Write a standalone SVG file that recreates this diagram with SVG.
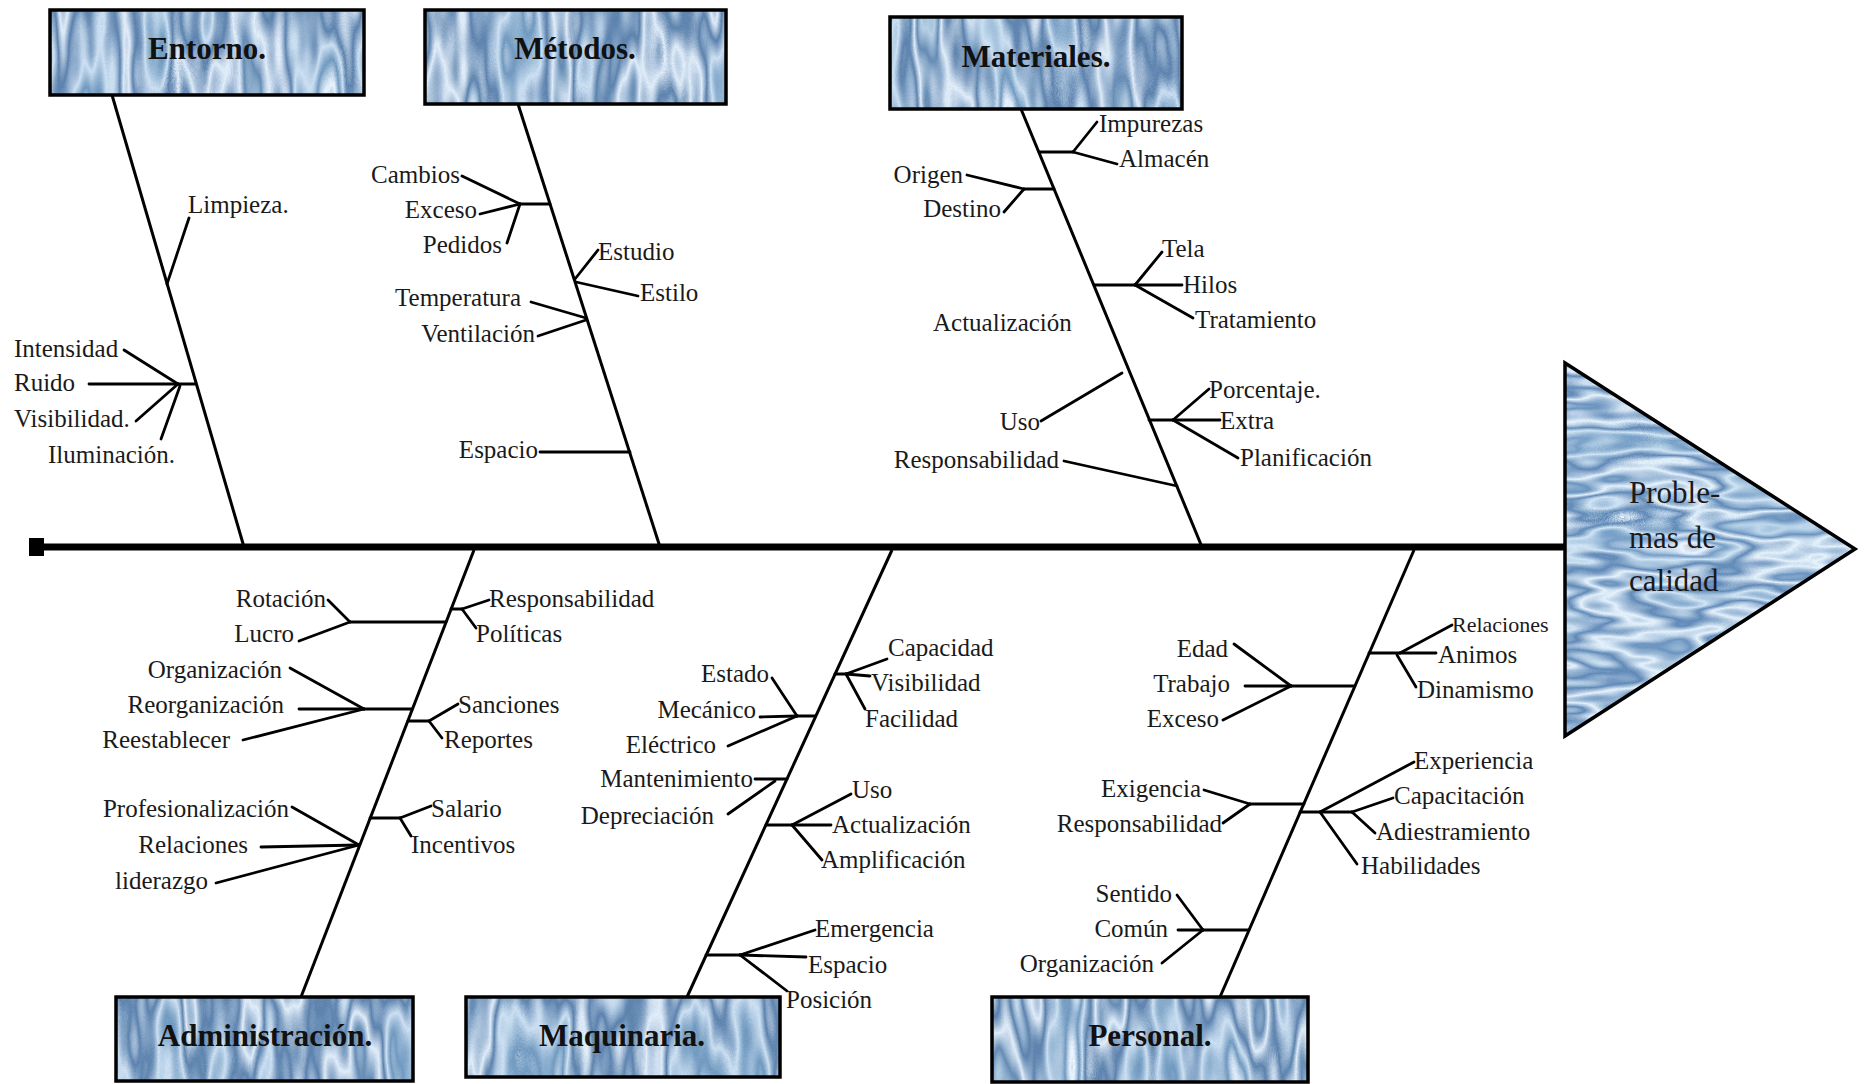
<svg xmlns="http://www.w3.org/2000/svg" width="1866" height="1084" viewBox="0 0 1866 1084">
  <defs>
    <!-- blue marble fill for category boxes (vertical streaks) -->
    <filter id="marbleV" x="0" y="0" width="1" height="1" color-interpolation-filters="sRGB">
      <feTurbulence type="fractalNoise" baseFrequency="0.022 0.005" numOctaves="3" seed="7" result="n"/>
      <feColorMatrix in="n" type="matrix" values="1 0 0 0 0  1 0 0 0 0  1 0 0 0 0  0 0 0 0 1" result="g"/>
      <feComponentTransfer in="g" result="c">
        <feFuncR type="table" tableValues="0.30 0.36 0.72 0.40 0.88 0.36 0.80 0.44 0.92 0.40 0.45"/>
        <feFuncG type="table" tableValues="0.44 0.52 0.82 0.55 0.93 0.51 0.88 0.60 0.96 0.55 0.58"/>
        <feFuncB type="table" tableValues="0.60 0.68 0.90 0.71 0.98 0.68 0.95 0.75 1.00 0.70 0.74"/>
      </feComponentTransfer>
      <feComposite in="c" in2="SourceAlpha" operator="in"/>
    </filter>
    <!-- blue marble fill for the head (horizontal waves) -->
    <filter id="marbleH" x="0" y="0" width="1" height="1" color-interpolation-filters="sRGB">
      <feTurbulence type="fractalNoise" baseFrequency="0.007 0.028" numOctaves="3" seed="3" result="n"/>
      <feColorMatrix in="n" type="matrix" values="1 0 0 0 0  1 0 0 0 0  1 0 0 0 0  0 0 0 0 1" result="g"/>
      <feComponentTransfer in="g" result="c">
        <feFuncR type="table" tableValues="0.30 0.38 0.75 0.42 0.90 0.38 0.82 0.46 0.93 0.40 0.45"/>
        <feFuncG type="table" tableValues="0.46 0.55 0.85 0.58 0.95 0.54 0.90 0.62 0.96 0.56 0.60"/>
        <feFuncB type="table" tableValues="0.64 0.72 0.93 0.75 0.99 0.72 0.96 0.78 1.00 0.73 0.77"/>
      </feComponentTransfer>
      <feComposite in="c" in2="SourceAlpha" operator="in"/>
    </filter>
    <style>
      .fill { fill: #9db6cc; }
      .frame { fill: none; stroke: #000; stroke-width: 3.5; }
      .cat { font-family: "Liberation Serif", "Times New Roman", serif; font-weight: bold; font-size: 31px; fill: #111; text-anchor: middle; }
      .head { font-family: "Liberation Serif", "Times New Roman", serif; font-size: 31px; fill: #1a1a1a; }
      .lbl { font-family: "Liberation Serif", "Times New Roman", serif; font-size: 25px; fill: #1a1a1a; }
      .end { text-anchor: end; }
      .small { font-size: 22px; }
      .spine { stroke: #000; stroke-width: 7; fill: none; }
      .bone { stroke: #000; stroke-width: 3; fill: none; }
      .twig { stroke: #000; stroke-width: 2.8; fill: none; stroke-linecap: round; }
    </style>
  </defs>

  <rect width="1866" height="1084" fill="#fff"/>

  <!-- connectors: spine, bones and twigs -->
  <g id="connectors">
    <rect x="29" y="538" width="15" height="18" fill="#000"/>
    <line class="spine" x1="36" y1="547" x2="1566" y2="547"/>

    <!-- bones -->
    <line class="bone" x1="112" y1="95" x2="244" y2="547"/>
    <line class="bone" x1="518" y1="104" x2="660" y2="547"/>
    <line class="bone" x1="1021" y1="109" x2="1202" y2="547"/>
    <line class="bone" x1="474" y1="550" x2="301" y2="997"/>
    <line class="bone" x1="892" y1="550" x2="687" y2="997"/>
    <line class="bone" x1="1414" y1="550" x2="1220" y2="997"/>

    <!-- Entorno twigs -->
    <g class="twig">
      <line x1="167" y1="284" x2="189" y2="218"/>
      <line x1="178" y1="384" x2="196" y2="384"/>
      <line x1="124" y1="350" x2="178" y2="384"/>
      <line x1="89" y1="384" x2="178" y2="384"/>
      <line x1="136" y1="421" x2="178" y2="384"/>
      <line x1="161" y1="439" x2="180" y2="386"/>
    </g>

    <!-- Métodos twigs -->
    <g class="twig">
      <line x1="520" y1="204" x2="550" y2="204"/>
      <line x1="462" y1="176" x2="520" y2="204"/>
      <line x1="480" y1="214" x2="520" y2="204"/>
      <line x1="507" y1="243" x2="520" y2="204"/>
      <line x1="575" y1="279" x2="598" y2="250"/>
      <line x1="576" y1="282" x2="638" y2="296"/>
      <line x1="531" y1="302" x2="586" y2="318"/>
      <line x1="538" y1="336" x2="586" y2="320"/>
      <line x1="540" y1="452" x2="630" y2="452"/>
    </g>

    <!-- Materiales twigs -->
    <g class="twig">
      <line x1="1039" y1="152" x2="1073" y2="152"/>
      <line x1="1073" y1="152" x2="1097" y2="122"/>
      <line x1="1073" y1="152" x2="1117" y2="164"/>
      <line x1="1024" y1="189" x2="1054" y2="189"/>
      <line x1="967" y1="175" x2="1024" y2="189"/>
      <line x1="1004" y1="212" x2="1024" y2="189"/>
      <line x1="1094" y1="285" x2="1135" y2="285"/>
      <line x1="1135" y1="285" x2="1162" y2="252"/>
      <line x1="1135" y1="285" x2="1182" y2="285"/>
      <line x1="1135" y1="285" x2="1193" y2="318"/>
      <line x1="1041" y1="421" x2="1122" y2="373"/>
      <line x1="1149" y1="420" x2="1173" y2="420"/>
      <line x1="1173" y1="420" x2="1209" y2="389"/>
      <line x1="1173" y1="420" x2="1220" y2="420"/>
      <line x1="1173" y1="420" x2="1238" y2="458"/>
      <line x1="1064" y1="461" x2="1177" y2="486"/>
    </g>

    <!-- Administración twigs -->
    <g class="twig">
      <line x1="350" y1="622" x2="446" y2="622"/>
      <line x1="328" y1="600" x2="350" y2="622"/>
      <line x1="299" y1="641" x2="350" y2="622"/>
      <line x1="451" y1="609" x2="462" y2="609"/>
      <line x1="462" y1="609" x2="489" y2="600"/>
      <line x1="462" y1="609" x2="476" y2="628"/>
      <line x1="364" y1="709" x2="412" y2="709"/>
      <line x1="290" y1="668" x2="364" y2="709"/>
      <line x1="299" y1="709" x2="364" y2="709"/>
      <line x1="243" y1="740" x2="364" y2="709"/>
      <line x1="408" y1="721" x2="429" y2="721"/>
      <line x1="429" y1="721" x2="458" y2="704"/>
      <line x1="429" y1="721" x2="442" y2="738"/>
      <line x1="370" y1="818" x2="400" y2="818"/>
      <line x1="400" y1="818" x2="431" y2="806"/>
      <line x1="400" y1="818" x2="411" y2="836"/>
      <line x1="292" y1="807" x2="359" y2="845"/>
      <line x1="261" y1="847" x2="359" y2="845"/>
      <line x1="216" y1="883" x2="359" y2="845"/>
    </g>

    <!-- Maquinaria twigs -->
    <g class="twig">
      <line x1="797" y1="716" x2="815" y2="716"/>
      <line x1="772" y1="678" x2="797" y2="716"/>
      <line x1="760" y1="717" x2="797" y2="716"/>
      <line x1="728" y1="746" x2="797" y2="716"/>
      <line x1="835" y1="674" x2="846" y2="674"/>
      <line x1="846" y1="674" x2="887" y2="659"/>
      <line x1="846" y1="674" x2="870" y2="676"/>
      <line x1="846" y1="674" x2="865" y2="709"/>
      <line x1="755" y1="779" x2="787" y2="779"/>
      <line x1="728" y1="814" x2="775" y2="781"/>
      <line x1="766" y1="825" x2="792" y2="825"/>
      <line x1="792" y1="825" x2="851" y2="794"/>
      <line x1="792" y1="825" x2="831" y2="825"/>
      <line x1="792" y1="825" x2="822" y2="860"/>
      <line x1="706" y1="955" x2="740" y2="955"/>
      <line x1="740" y1="955" x2="815" y2="930"/>
      <line x1="740" y1="955" x2="806" y2="957"/>
      <line x1="740" y1="955" x2="787" y2="991"/>
    </g>

    <!-- Personal twigs -->
    <g class="twig">
      <line x1="1369" y1="653" x2="1400" y2="653"/>
      <line x1="1400" y1="653" x2="1452" y2="625"/>
      <line x1="1400" y1="653" x2="1436" y2="653"/>
      <line x1="1397" y1="655" x2="1416" y2="687"/>
      <line x1="1291" y1="686" x2="1355" y2="686"/>
      <line x1="1234" y1="644" x2="1291" y2="686"/>
      <line x1="1245" y1="686" x2="1291" y2="686"/>
      <line x1="1223" y1="720" x2="1291" y2="686"/>
      <line x1="1250" y1="804" x2="1304" y2="804"/>
      <line x1="1204" y1="790" x2="1250" y2="804"/>
      <line x1="1223" y1="823" x2="1250" y2="804"/>
      <line x1="1300" y1="812" x2="1352" y2="812"/>
      <line x1="1320" y1="812" x2="1414" y2="762"/>
      <line x1="1320" y1="812" x2="1357" y2="864"/>
      <line x1="1352" y1="812" x2="1393" y2="798"/>
      <line x1="1352" y1="812" x2="1375" y2="833"/>
      <line x1="1203" y1="930" x2="1249" y2="930"/>
      <line x1="1177" y1="895" x2="1203" y2="930"/>
      <line x1="1178" y1="930" x2="1203" y2="930"/>
      <line x1="1162" y1="963" x2="1203" y2="930"/>
    </g>
  </g>

  <!-- head: the effect -->
  <g id="effect">
    <polygon class="fill" filter="url(#marbleH)" points="1565,363 1565,736 1855,549"/>
    <polygon class="frame" points="1565,363 1565,736 1855,549" stroke-linejoin="miter"/>
    <text class="head" x="1629" y="503">Proble-</text>
    <text class="head" x="1629" y="548">mas de</text>
    <text class="head" x="1629" y="591">calidad</text>
  </g>

  <!-- category boxes -->
  <g id="cat-entorno">
    <rect class="fill" filter="url(#marbleV)" x="50" y="10" width="314" height="85"/>
    <rect class="frame" x="50" y="10" width="314" height="85"/>
    <text class="cat" x="207" y="59">Entorno.</text>
  </g>
  <g id="cat-metodos">
    <rect class="fill" filter="url(#marbleV)" x="425" y="10" width="301" height="94"/>
    <rect class="frame" x="425" y="10" width="301" height="94"/>
    <text class="cat" x="575" y="59">Métodos.</text>
  </g>
  <g id="cat-materiales">
    <rect class="fill" filter="url(#marbleV)" x="890" y="17" width="292" height="92"/>
    <rect class="frame" x="890" y="17" width="292" height="92"/>
    <text class="cat" x="1036" y="67">Materiales.</text>
  </g>
  <g id="cat-administracion">
    <rect class="fill" filter="url(#marbleV)" x="116" y="997" width="297" height="84"/>
    <rect class="frame" x="116" y="997" width="297" height="84"/>
    <text class="cat" x="265" y="1046">Administración.</text>
  </g>
  <g id="cat-maquinaria">
    <rect class="fill" filter="url(#marbleV)" x="466" y="997" width="314" height="80"/>
    <rect class="frame" x="466" y="997" width="314" height="80"/>
    <text class="cat" x="622" y="1046">Maquinaria.</text>
  </g>
  <g id="cat-personal">
    <rect class="fill" filter="url(#marbleV)" x="992" y="997" width="316" height="85"/>
    <rect class="frame" x="992" y="997" width="316" height="85"/>
    <text class="cat" x="1150" y="1046">Personal.</text>
  </g>

  <!-- causes -->
  <g id="causes-entorno" class="lbl">
    <text x="188" y="213">Limpieza.</text>
    <text x="14" y="357">Intensidad</text>
    <text x="14" y="391">Ruido</text>
    <text x="14" y="427">Visibilidad.</text>
    <text x="48" y="463">Iluminación.</text>
  </g>
  <g id="causes-metodos" class="lbl">
    <text class="end" x="460" y="183">Cambios</text>
    <text class="end" x="477" y="218">Exceso</text>
    <text class="end" x="502" y="253">Pedidos</text>
    <text x="598" y="260">Estudio</text>
    <text x="640" y="301">Estilo</text>
    <text class="end" x="521" y="306">Temperatura</text>
    <text class="end" x="535" y="342">Ventilación</text>
    <text class="end" x="538" y="458">Espacio</text>
  </g>
  <g id="causes-materiales" class="lbl">
    <text x="1099" y="132">Impurezas</text>
    <text x="1119" y="167">Almacén</text>
    <text class="end" x="963" y="183">Origen</text>
    <text class="end" x="1001" y="217">Destino</text>
    <text x="1162" y="257">Tela</text>
    <text x="1183" y="293">Hilos</text>
    <text x="1195" y="328">Tratamiento</text>
    <text x="933" y="331">Actualización</text>
    <text class="end" x="1040" y="430">Uso</text>
    <text class="end" x="1059" y="468">Responsabilidad</text>
    <text x="1209" y="398">Porcentaje.</text>
    <text x="1220" y="429">Extra</text>
    <text x="1240" y="466">Planificación</text>
  </g>
  <g id="causes-administracion" class="lbl">
    <text class="end" x="326" y="607">Rotación</text>
    <text class="end" x="294" y="642">Lucro</text>
    <text x="489" y="607">Responsabilidad</text>
    <text x="476" y="642">Políticas</text>
    <text class="end" x="282" y="678">Organización</text>
    <text class="end" x="284" y="713">Reorganización</text>
    <text class="end" x="230" y="748">Reestablecer</text>
    <text x="458" y="713">Sanciones</text>
    <text x="444" y="748">Reportes</text>
    <text x="431" y="817">Salario</text>
    <text x="411" y="853">Incentivos</text>
    <text class="end" x="289" y="817">Profesionalización</text>
    <text class="end" x="248" y="853">Relaciones</text>
    <text class="end" x="208" y="889">liderazgo</text>
  </g>
  <g id="causes-maquinaria" class="lbl">
    <text class="end" x="769" y="682">Estado</text>
    <text class="end" x="756" y="718">Mecánico</text>
    <text class="end" x="716" y="753">Eléctrico</text>
    <text x="888" y="656">Capacidad</text>
    <text x="871" y="691">Visibilidad</text>
    <text x="865" y="727">Facilidad</text>
    <text class="end" x="753" y="787">Mantenimiento</text>
    <text class="end" x="714" y="824">Depreciación</text>
    <text x="852" y="798">Uso</text>
    <text x="832" y="833">Actualización</text>
    <text x="821" y="868">Amplificación</text>
    <text x="815" y="937">Emergencia</text>
    <text x="808" y="973">Espacio</text>
    <text x="786" y="1008">Posición</text>
  </g>
  <g id="causes-personal" class="lbl">
    <text class="small" x="1452" y="632">Relaciones</text>
    <text x="1438" y="663">Animos</text>
    <text x="1417" y="698">Dinamismo</text>
    <text class="end" x="1228" y="657">Edad</text>
    <text class="end" x="1230" y="692">Trabajo</text>
    <text class="end" x="1219" y="727">Exceso</text>
    <text class="end" x="1201" y="797">Exigencia</text>
    <text class="end" x="1222" y="832">Responsabilidad</text>
    <text x="1414" y="769">Experiencia</text>
    <text x="1394" y="804">Capacitación</text>
    <text x="1376" y="840">Adiestramiento</text>
    <text x="1361" y="874">Habilidades</text>
    <text class="end" x="1172" y="902">Sentido</text>
    <text class="end" x="1168" y="937">Común</text>
    <text class="end" x="1154" y="972">Organización</text>
  </g>
</svg>
